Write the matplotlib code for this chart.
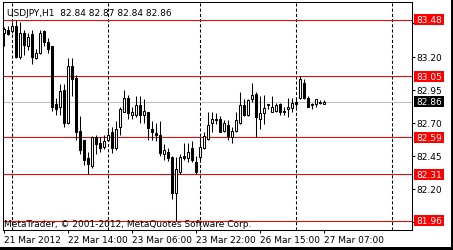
import numpy as np
import pandas as pd
import matplotlib
matplotlib.use('Agg')
import matplotlib.pyplot as plt
from matplotlib.patches import Rectangle
import matplotlib.transforms as mtransforms

matplotlib.rcParams.update({'font.size': 6.5, 'font.family': 'DejaVu Sans'})

symbol = 'USDJPY,H1'
copyright_text = 'MetaTrader, \u00a9 2001-2012, MetaQuotes Software Corp.'

# hourly bars, Friday session ends 22:00, weekend skipped
times = list(pd.date_range('2012-03-21 22:00', '2012-03-23 22:00', freq='h')) + \
        list(pd.date_range('2012-03-26 00:00', '2012-03-27 07:00', freq='h'))

opens = [83.38, 83.40, 83.39, 83.43, 83.20, 83.38, 83.28, 83.37, 83.19, 83.23,
         83.39, 83.31, 83.28, 82.84, 82.82, 82.95, 82.70, 83.13, 83.04, 82.64,
         82.57, 82.43, 82.37, 82.59, 82.55, 82.52, 82.57, 82.63, 82.51, 82.67,
         82.78, 82.89, 82.76, 82.76, 82.83, 82.76, 82.78, 82.65, 82.62, 82.61,
         82.46, 82.48, 82.44, 82.17, 82.33, 82.45, 82.43, 82.51, 82.40, 82.44,
         82.51, 82.58, 82.70, 82.72, 82.73, 82.64, 82.68, 82.59, 82.64, 82.70,
         82.83, 82.76, 82.88, 82.92, 82.73, 82.77, 82.84, 82.78, 82.79, 82.84,
         82.78, 82.80, 82.81, 82.86, 82.89, 83.00, 82.89, 82.84, 82.84, 82.86,
         82.84]
highs = [83.42, 83.43, 83.46, 83.48, 83.46, 83.40, 83.38, 83.40, 83.26, 83.40,
         83.40, 83.34, 83.28, 82.89, 82.99, 82.99, 83.19, 83.19, 83.06, 82.75,
         82.57, 82.48, 82.60, 82.61, 82.59, 82.61, 82.66, 82.67, 82.71, 82.82,
         82.95, 82.91, 82.82, 82.90, 82.90, 82.88, 82.78, 82.71, 82.70, 82.71,
         82.54, 82.51, 82.45, 82.44, 82.46, 82.55, 82.55, 82.56, 82.45, 82.59,
         82.63, 82.78, 82.78, 82.77, 82.75, 82.72, 82.72, 82.67, 82.78, 82.93,
         82.88, 82.88, 83.00, 82.93, 82.90, 82.91, 82.84, 82.90, 82.85, 82.85,
         82.82, 82.89, 82.89, 82.88, 83.05, 83.03, 82.90, 82.85, 82.88, 82.87,
         82.87]
lows = [83.28, 83.36, 83.38, 83.19, 83.18, 83.21, 83.25, 83.14, 83.18, 83.22,
        83.28, 83.23, 82.79, 82.76, 82.76, 82.67, 82.69, 82.90, 82.57, 82.46,
        82.38, 82.31, 82.36, 82.46, 82.48, 82.50, 82.56, 82.47, 82.49, 82.61,
        82.78, 82.73, 82.73, 82.74, 82.70, 82.70, 82.57, 82.57, 82.56, 82.45,
        82.42, 82.41, 82.12, 81.96, 82.31, 82.42, 82.40, 82.40, 82.31, 82.41,
        82.50, 82.57, 82.63, 82.69, 82.63, 82.63, 82.57, 82.55, 82.63, 82.69,
        82.75, 82.75, 82.86, 82.59, 82.65, 82.69, 82.80, 82.78, 82.78, 82.76,
        82.76, 82.74, 82.78, 82.82, 82.88, 82.88, 82.82, 82.80, 82.82, 82.84,
        82.84]
closes = [83.41, 83.37, 83.43, 83.20, 83.38, 83.29, 83.35, 83.20, 83.23, 83.38,
          83.31, 83.26, 82.82, 82.80, 82.94, 82.70, 83.13, 83.03, 82.63, 82.49,
          82.42, 82.39, 82.59, 82.54, 82.51, 82.56, 82.61, 82.51, 82.65, 82.80,
          82.89, 82.77, 82.78, 82.83, 82.76, 82.79, 82.66, 82.63, 82.61, 82.47,
          82.49, 82.43, 82.17, 82.35, 82.44, 82.43, 82.48, 82.42, 82.33, 82.52,
          82.60, 82.68, 82.73, 82.73, 82.63, 82.70, 82.60, 82.64, 82.72, 82.83,
          82.76, 82.87, 82.91, 82.74, 82.77, 82.81, 82.83, 82.82, 82.83, 82.78,
          82.79, 82.82, 82.85, 82.84, 83.03, 82.89, 82.82, 82.83, 82.88, 82.85,
          82.86]

level_lines = [83.48, 83.05, 82.59, 82.31, 81.96]
bid = 82.86
price_ticks = [83.45, 83.20, 82.95, 82.70, 82.45, 82.20, 81.95]

o = np.array(opens); h = np.array(highs); l = np.array(lows); c = np.array(closes)
x = np.arange(len(times))

fig = plt.figure(figsize=(4.53, 2.51), dpi=100)
W, H = 453.0, 251.0
ax = fig.add_axes([2.5/W, 1 - 230.5/H, 409/W, 228/H])
ax.set_xlim(-0.25, 102)
ax.set_ylim(83.48 - 210/132.3, 83.48 + 18/132.3)

# period separators (start of each day), incl. the next day in the shifted area
day_starts = [i for i in range(1, len(times)) if times[i].date() != times[i-1].date()]
day_starts.append(day_starts[-1] + 24)
for d in day_starts:
    ax.axvline(d, color='black', lw=0.75, ls=(0, (3, 2)), zorder=1)

# levels + bid line
for lv in level_lines:
    ax.axhline(lv, color='#ff0000', lw=0.75, zorder=2)
ax.axhline(bid, color='#c0c0c0', lw=0.75, zorder=2)

# candles
ax.vlines(x, l, h, color='black', lw=0.75, zorder=3)
up = c >= o
ax.bar(x[up], (c - o)[up], bottom=o[up], width=0.5, color='white',
       edgecolor='black', lw=0.75, zorder=4)
ax.bar(x[~up], (o - c)[~up], bottom=c[~up], width=0.5, color='black',
       edgecolor='black', lw=0.75, zorder=4)

for s in ax.spines.values():
    s.set_linewidth(0.75)

# right price scale; labels covered by a level box are left blank
box_h = 11/132.3
def covered(p):
    return any(abs(p - lv) < box_h for lv in level_lines + [bid])
ax.yaxis.tick_right()
ax.set_yticks(price_ticks)
ax.set_yticklabels(['' if covered(p) else '%.2f' % p for p in price_ticks])
ax.tick_params(axis='y', length=2.2, width=0.75, pad=1.5)

# time scale
tick_idx = list(range(0, len(times), 16))
tick_lbl = [times[0].strftime('%d %b %Y')] + [times[i].strftime('%d %b %H:%M') for i in tick_idx[1:]]
ax.set_xticks(tick_idx)
ax.set_xticklabels(tick_lbl, ha='left')
ax.tick_params(axis='x', length=2.2, width=0.75, pad=2)

# coloured price labels
blend = mtransforms.blended_transform_factory(ax.transAxes, ax.transData)
for lv, col in [(p, '#ff0000') for p in level_lines] + [(bid, 'black')]:
    ax.add_patch(Rectangle((1.0073, lv - box_h/2), 0.071, box_h, transform=blend,
                           facecolor=col, edgecolor='none', clip_on=False, zorder=10))
    ax.text(1.012, lv, '%.2f' % lv, transform=blend, color='white', va='center',
            ha='left', fontsize=6.5, clip_on=False, zorder=11)

# header and copyright
ax.text(4.5/409, 1 - 6/228, '%s  %.2f %.2f %.2f %.2f' % (symbol, o[-1], h[-1], l[-1], c[-1]),
        transform=ax.transAxes, va='top', ha='left', fontsize=6.5)
ax.text(1/409, 1.5/228, copyright_text, transform=ax.transAxes, va='bottom',
        ha='left', fontsize=6.5, zorder=12)

# window edge shadow
fig.patches.append(Rectangle((0, 0), 1, 3/H, transform=fig.transFigure,
                             facecolor='black', edgecolor='none'))
fig.patches.append(Rectangle((1 - 2/W, 0), 2/W, 1, transform=fig.transFigure,
                             facecolor='black', edgecolor='none'))

fig.savefig('out.png', dpi=100)
